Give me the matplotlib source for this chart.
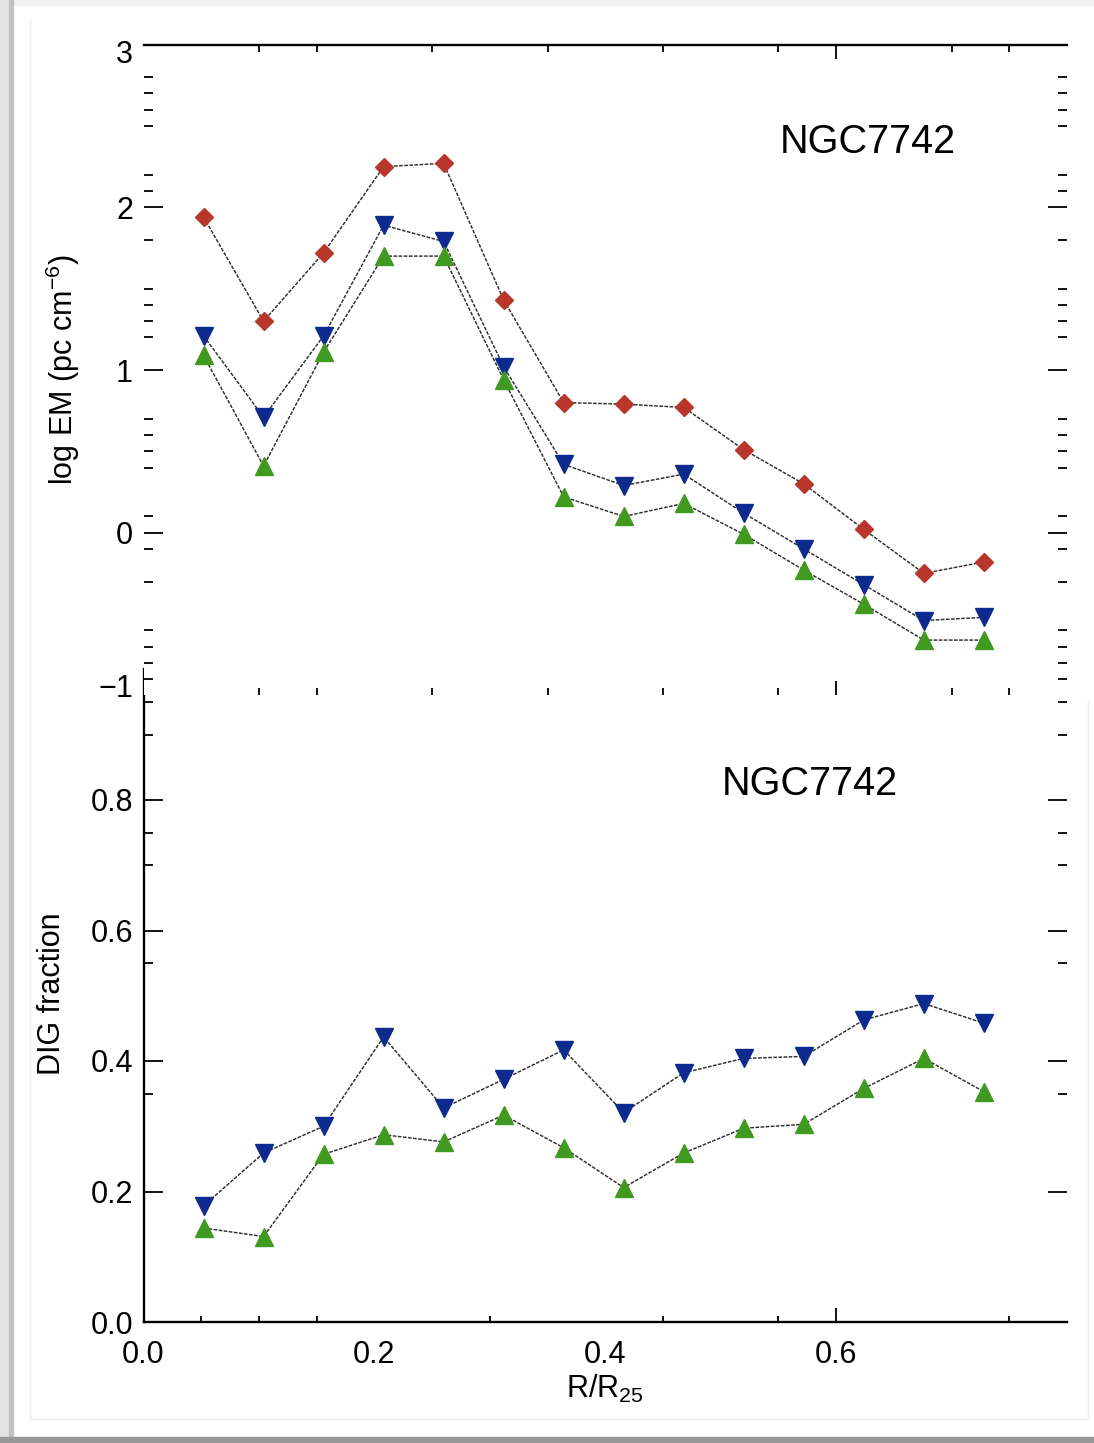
import matplotlib.pyplot as plt
from matplotlib.patches import Rectangle
from matplotlib.lines import Line2D
from matplotlib.transforms import ScaledTranslation

plt.rcParams['font.family'] = 'Liberation Sans'
plt.rcParams['mathtext.fontset'] = 'custom'
plt.rcParams['mathtext.rm'] = 'Liberation Sans'
plt.rcParams['mathtext.it'] = 'Liberation Sans:italic'

# radial bins, R/R25
r_r25 = [0.052, 0.104, 0.156, 0.208, 0.260, 0.312, 0.364,
         0.416, 0.468, 0.520, 0.572, 0.624, 0.676, 0.728]

# top panel: log EM (pc cm^-6)
log_em_red = [1.94, 1.30, 1.72, 2.25, 2.27, 1.43, 0.80,
              0.79, 0.77, 0.51, 0.30, 0.02, -0.25, -0.18]
log_em_blue = [1.21, 0.71, 1.21, 1.89, 1.79, 1.02, 0.42,
               0.29, 0.36, 0.12, -0.10, -0.32, -0.54, -0.52]
log_em_green = [1.09, 0.41, 1.11, 1.70, 1.70, 0.94, 0.22,
                0.10, 0.18, -0.01, -0.23, -0.44, -0.66, -0.66]

# bottom panel: DIG fraction
dig_blue = [0.178, 0.259, 0.300, 0.437, 0.328, 0.372, 0.417,
            0.321, 0.382, 0.404, 0.407, 0.463, 0.488, 0.458]
dig_green = [0.144, 0.131, 0.257, 0.287, 0.276, 0.317, 0.267,
             0.206, 0.259, 0.297, 0.303, 0.358, 0.404, 0.353]

galaxy = 'NGC7742'

RED = '#b8372a'
BLUE = '#0d2b8e'
GREEN = '#3f9a1f'
LINE = '#2e2e2e'

W, H = 1094, 1443
fig = plt.figure(figsize=(W / 100, H / 100), dpi=100, facecolor='white')


def fx(px):
    return px / W


def fy(py):
    return 1 - py / H


# screenshot frame
fig.patches.append(Rectangle((0, fy(5)), 1, 5 / H, transform=fig.transFigure,
                             color='#f3f3f3', zorder=0))
fig.patches.append(Rectangle((0, 0), fx(9), 1, transform=fig.transFigure,
                             color='#e3e3e3', zorder=0))
fig.patches.append(Rectangle((fx(9), 0), fx(3.5), 1, transform=fig.transFigure,
                             color='#c2c2c2', zorder=0))
fig.patches.append(Rectangle((0, 0), 1, 6.5 / H, transform=fig.transFigure,
                             color='#989898', zorder=0))
for xs, ys in [([30, 30], [20, 1419]), ([30, 1088], [1419, 1419]),
               ([1088, 1088], [700, 1419])]:
    fig.lines.append(Line2D([fx(x) for x in xs], [fy(y) for y in ys],
                            transform=fig.transFigure, color='#ededed', lw=1))

left, right = fx(143.5), fx(1067)
dash = (0, (2.5, 1))

# ---- bottom panel (drawn first, partly hidden by the top one)
ax2 = fig.add_axes([left, fy(1322), right - left, fy(669.5) - fy(1322)])
ax2.plot(r_r25, dig_blue, color=LINE, lw=1.05, ls=dash, zorder=2)
ax2.plot(r_r25, dig_green, color=LINE, lw=1.05, ls=dash, zorder=2)
ax2.plot(r_r25, dig_blue, ls='none', marker='v', ms=13.5, color=BLUE, mec=BLUE, zorder=3)
ax2.plot(r_r25, dig_green, ls='none', marker='^', ms=13.5, color=GREEN, mec=GREEN, zorder=3)
ax2.set_xlim(0, 0.8)
ax2.set_ylim(0, 1.0)
for s in ['top', 'right']:
    ax2.spines[s].set_visible(False)
for s in ['left', 'bottom']:
    ax2.spines[s].set_linewidth(1.7)
ax2.set_xticks([0.0, 0.2, 0.4, 0.6])
ax2.set_xticklabels(['0.0', '0.2', '0.4', '0.6'])
ax2.set_xticks([0.05, 0.1, 0.15, 0.3, 0.45, 0.55, 0.75], minor=True)
ax2.set_yticks([0.0, 0.2, 0.4, 0.6, 0.8])
ax2.set_yticklabels(['0.0', '0.2', '0.4', '0.6', '0.8'])
ax2.set_yticks([0.35, 0.55, 0.7, 0.75, 0.9, 0.95], minor=True)
ax2.tick_params(axis='x', which='both', direction='in', top=False, labelsize=22,
                pad=13, width=1.3)
ax2.tick_params(axis='x', which='major', length=10)
ax2.tick_params(axis='x', which='minor', length=4.5)
ax2.tick_params(axis='y', which='both', direction='in', right=True, labelsize=22,
                pad=7.5, width=1.3)
ax2.tick_params(axis='y', which='major', length=13.5)
ax2.tick_params(axis='y', which='minor', length=6.5)
for t in ax2.xaxis.get_major_ticks()[:3]:
    t.tick1line.set_visible(False)
ax2.text(0.626, 0.8245, galaxy, transform=ax2.transAxes, fontsize=28.5,
         ha='left', va='center')

# ---- top panel
ax1 = fig.add_axes([left, fy(695.4), right - left, fy(44.6) - fy(695.4)])
ax1.set_facecolor('white')
for ys in [log_em_red, log_em_blue, log_em_green]:
    ax1.plot(r_r25, ys, color=LINE, lw=1.05, ls=dash, zorder=2)
for ys, mk, c, ms in [(log_em_red, 'D', RED, 9.5), (log_em_blue, 'v', BLUE, 13.5),
                      (log_em_green, '^', GREEN, 13.5)]:
    ax1.plot(r_r25, ys, ls='none', marker=mk, ms=ms, color=c, mec=c, zorder=3)
ax1.set_xlim(0, 0.8)
ax1.set_ylim(-1, 3)
for s in ['left', 'right', 'bottom']:
    ax1.spines[s].set_visible(False)
ax1.spines['top'].set_linewidth(1.7)
ax1.set_xticks([0.6])
ax1.set_xticks([0.1, 0.15, 0.25, 0.35, 0.45, 0.55, 0.7, 0.75], minor=True)
ax1.set_yticks([-1, 0, 1, 2, 3])
ax1.set_yticklabels(['\u22121', '0', '1', '2', '3'])
ax1.set_yticks([2.8, 2.7, 2.6, 2.5, 2.2, 2.1, 1.8, 1.5, 1.4, 1.3, 1.2,
                0.7, 0.6, 0.5, 0.4, 0.1, -0.1, -0.3, -0.6, -0.7, -0.8, -0.9],
               minor=True)
ax1.tick_params(axis='x', which='both', direction='in', top=True, bottom=True,
                labelbottom=False, width=1.3)
ax1.tick_params(axis='x', which='major', length=10)
ax1.tick_params(axis='x', which='minor', length=5)
ax1.tick_params(axis='y', which='both', direction='in', right=True, labelsize=22,
                pad=7.5, width=1.3)
ax1.tick_params(axis='y', which='major', length=13.5)
ax1.tick_params(axis='y', which='minor', length=6.5)
yt = ax1.yaxis.get_major_ticks()
yt[0].tick1line.set_visible(False)
yt[0].tick2line.set_visible(False)
lab = ax1.get_yticklabels()
lab[0].set_transform(lab[0].get_transform() + ScaledTranslation(0, 0.1, fig.dpi_scale_trans))
lab[-1].set_transform(lab[-1].get_transform() + ScaledTranslation(0, -0.07, fig.dpi_scale_trans))
ax1.text(0.689, 0.850, galaxy, transform=ax1.transAxes, fontsize=28.5,
         ha='left', va='center')

# axis titles
fig.text(fx(63), fy(370), 'log EM (pc cm$^{-6}$)', rotation=90, fontsize=22,
         ha='center', va='center')
fig.text(fx(52.5), fy(994), 'DIG fraction', rotation=90, fontsize=22,
         ha='center', va='center')
fig.text(fx(605), fy(1389), 'R/R$_{25}$', fontsize=22, ha='center', va='center')

fig.savefig('out.png', dpi=100, facecolor='white')
